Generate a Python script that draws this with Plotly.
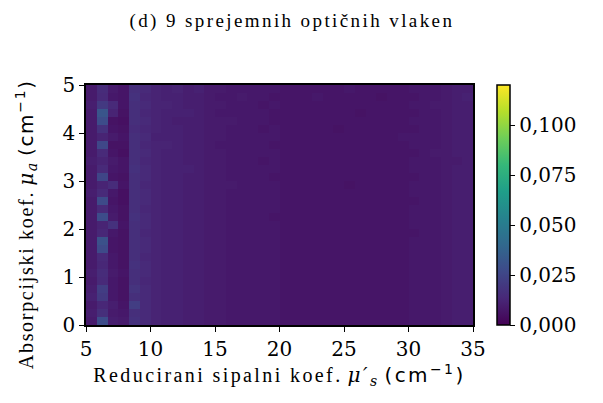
import numpy as np
import plotly.graph_objects as go

# Heatmap values (units of 0.001), rows listed from top (mu_a = 5) to bottom (mu_a = 0)
rows_top_to_bottom = [
    [9,15,9,7,16,14,12,11,12,10,11,9,9,8,8,8,8,8,7,7,7,7,7,7,8,7,7,7,7,7,8,8,8,9,10,10],
    [9,14,8,7,17,13,12,11,11,10,10,9,8,8,9,8,8,7,7,7,7,8,7,7,7,7,7,6,7,7,7,8,8,9,10,11],
    [10,20,14,7,16,14,12,12,11,10,10,9,9,8,8,8,7,8,7,7,7,7,7,7,7,7,7,7,7,7,8,8,9,9,10,10],
    [9,32,12,6,16,13,12,11,11,11,10,9,8,8,8,8,8,7,7,7,7,7,7,7,7,6,7,7,7,7,7,8,8,9,10,10],
    [9,28,6,5,16,14,12,11,10,10,10,9,9,9,8,8,8,7,7,7,7,7,7,7,7,7,7,7,7,7,8,8,8,9,10,10],
    [9,17,7,6,15,13,12,11,11,10,10,9,9,8,8,8,7,8,7,7,7,7,7,6,7,7,7,7,7,7,7,8,8,9,10,10],
    [9,12,9,7,16,14,11,11,11,10,10,9,9,8,8,8,8,8,7,7,7,7,7,7,7,7,7,7,7,8,8,8,8,9,10,10],
    [9,26,6,6,16,13,12,12,11,10,10,9,8,8,8,8,8,7,7,7,7,7,7,7,7,7,7,7,7,7,8,8,8,9,10,10],
    [9,14,7,5,16,14,12,11,11,10,10,9,9,8,8,8,8,8,7,7,7,7,7,7,7,7,7,7,7,7,7,8,9,9,10,10],
    [10,12,9,7,16,13,12,11,11,10,10,9,9,8,8,8,7,8,7,7,7,7,7,7,7,7,7,7,7,7,8,8,8,9,9,10],
    [9,14,8,7,17,14,12,11,11,11,10,9,9,8,8,8,8,8,7,7,7,7,7,7,7,7,7,7,7,7,8,8,8,9,10,10],
    [9,25,7,6,16,14,12,11,11,10,10,9,9,8,8,8,8,7,7,7,7,7,7,7,7,7,7,7,7,7,7,8,8,9,10,10],
    [9,12,15,7,16,13,12,11,11,10,10,9,9,9,8,8,8,8,7,7,7,7,7,7,6,7,7,7,7,7,8,8,8,9,10,10],
    [10,14,8,5,16,14,12,11,11,10,10,9,9,8,8,8,8,8,7,7,7,7,7,7,7,7,7,7,7,7,8,8,8,9,10,10],
    [9,27,7,5,16,14,12,11,11,10,10,9,9,8,8,8,8,8,7,7,7,7,7,7,7,7,7,7,7,7,7,8,8,9,10,10],
    [9,14,8,6,16,13,12,11,11,10,10,9,9,8,8,8,8,8,7,7,7,7,7,7,7,7,7,7,7,7,8,8,8,9,10,10],
    [9,28,9,6,17,14,12,11,11,10,10,9,9,8,8,8,8,7,7,7,7,7,7,7,7,7,7,7,7,7,8,8,8,9,10,10],
    [9,12,17,7,16,14,12,11,11,10,10,9,9,8,8,8,8,8,7,7,7,7,7,7,7,7,7,7,7,7,8,8,8,9,10,10],
    [9,13,8,6,16,13,12,11,11,10,10,9,9,8,8,8,8,8,7,7,7,7,7,7,7,7,7,7,7,7,7,8,8,9,10,10],
    [9,30,7,6,16,14,12,11,11,10,10,9,9,8,8,8,8,8,7,7,7,7,7,7,7,7,7,7,7,7,8,8,8,9,10,10],
    [9,27,7,6,16,14,12,11,11,10,10,9,9,8,8,8,8,8,7,7,7,7,7,7,7,7,7,7,7,7,8,8,8,9,10,10],
    [9,14,8,6,16,13,12,11,11,10,10,9,9,8,8,8,8,8,7,7,7,7,7,7,7,7,7,7,7,7,8,8,8,9,10,10],
    [9,13,8,6,17,14,12,11,11,10,10,9,9,8,8,8,8,8,7,7,7,7,7,7,7,7,7,7,7,7,8,8,8,9,10,10],
    [10,15,9,7,16,14,12,11,11,10,10,9,9,8,8,8,8,8,7,7,7,7,7,7,7,7,7,7,7,7,8,8,8,9,10,10],
    [9,14,8,6,16,13,12,11,11,10,10,9,9,8,8,8,8,8,7,7,7,7,7,7,7,7,7,7,7,7,8,8,8,9,10,10],
    [10,22,8,6,18,14,12,11,11,10,10,9,9,8,8,8,8,8,7,7,7,7,7,7,7,7,7,7,7,7,8,8,8,9,10,10],
    [11,20,8,6,16,14,12,11,11,10,10,9,9,8,8,8,8,8,7,7,7,7,7,7,7,7,7,7,7,7,8,8,8,9,10,10],
    [9,13,10,7,22,14,12,11,11,10,10,9,9,8,8,8,8,8,7,7,7,7,7,7,7,7,7,7,7,7,8,8,8,9,10,10],
    [10,16,9,8,16,14,12,11,11,10,10,9,9,8,8,8,8,8,7,7,7,7,7,7,7,7,7,7,7,7,8,8,8,9,10,10],
    [9,28,10,9,17,14,12,11,11,10,10,9,9,8,8,8,8,8,7,7,7,7,7,7,7,7,7,7,7,7,8,8,8,9,10,10],
]

x_edges = np.linspace(5, 35, 37)
y_edges = np.linspace(0, 5, 31)
z = np.array(rows_top_to_bottom[::-1], dtype=float) / 1000.0

cbar_ticks = [0.0, 0.025, 0.05, 0.075, 0.1]
x_ticks = [5, 10, 15, 20, 25, 30, 35]
y_ticks = [0, 1, 2, 3, 4, 5]

TICKFONT = dict(family="DejaVu Serif", size=20, color="black")
LS = "letter-spacing:2.4px"
LSY = "letter-spacing:1.7px"

fig = go.Figure(go.Heatmap(
    z=z, x=x_edges, y=y_edges,
    colorscale="Viridis", zmin=0, zmax=0.12,
    colorbar=dict(
        x=1.062, xanchor="left", xref="paper", xpad=0, ypad=0,
        y=0.5, yanchor="middle", len=1.0, lenmode="fraction",
        thickness=13, outlinewidth=1.5, outlinecolor="black",
        tickvals=cbar_ticks, tickformat=".3f",
        ticks="outside", ticklen=5, tickwidth=1.2, tickcolor="black",
        tickfont=TICKFONT,
    ),
))

fig.update_layout(
    width=603, height=403,
    margin=dict(l=78, r=138, t=77, b=86),
    paper_bgcolor="white", plot_bgcolor="white",
    separators=",.",
    title=dict(
        text=f"<span style='{LS}'>(d) 9 sprejemnih optičnih vlaken</span>",
        font=dict(family="Liberation Serif", size=19, color="black"),
        x=0.532, xref="paper", xanchor="center",
        y=0.97, yref="container", yanchor="middle",
    ),
    xaxis=dict(
        range=[5, 35], tickvals=x_ticks, ticks="outside", ticklen=5, tickwidth=1.2,
        tickcolor="black", showline=True, linecolor="black", linewidth=1.5, mirror=True,
        showgrid=False, zeroline=False, tickfont=TICKFONT,
        title=dict(
            text=f"<span style='font-family:Liberation Serif;{LS}'>Reducirani sipalni koef.</span> "
                 f"<span style='font-family:DejaVu Serif;{LS}'><i>μ′<sub>s</sub></i></span> "
                 f"<span style='font-family:DejaVu Sans;{LS}'>(cm<sup>−1</sup>)</span>",
            font=dict(family="Liberation Serif", size=20, color="black"), standoff=8,
        ),
    ),
    yaxis=dict(
        range=[0, 5], tickvals=y_ticks, ticks="outside", ticklen=5, tickwidth=1.2,
        tickcolor="black", showline=True, linecolor="black", linewidth=1.5, mirror=True,
        showgrid=False, zeroline=False, tickfont=TICKFONT,
    ),
    annotations=[dict(
        text=f"<span style='font-family:Liberation Serif;{LSY}'>Absorpcijski koef.</span> "
             f"<span style='font-family:DejaVu Serif;{LSY}'><i>μ<sub>a</sub></i></span> "
             f"<span style='font-family:DejaVu Sans;{LSY}'>(cm<sup>−1</sup>)</span>",
        font=dict(family="Liberation Serif", size=20, color="black"),
        textangle=-90, showarrow=False,
        xref="paper", yref="paper", x=-0.155, y=0.42,
        xanchor="center", yanchor="middle",
    )],
)

fig.write_html("out.html")
